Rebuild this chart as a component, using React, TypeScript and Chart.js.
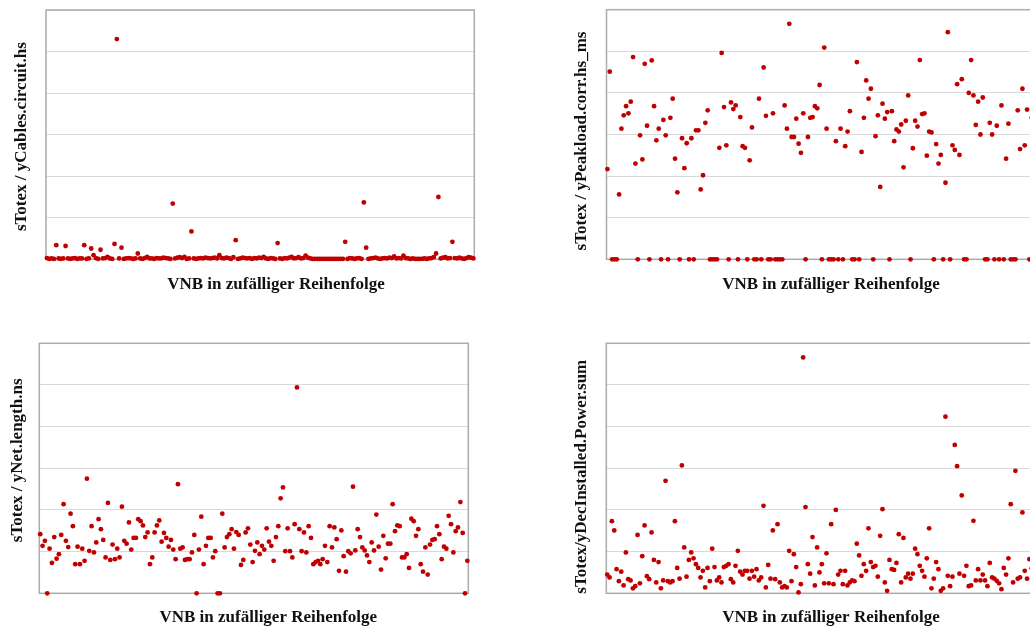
import React, { useEffect, useRef } from "react";
import { Chart, registerables } from "chart.js";

Chart.register(...registerables);

// ---------- data (values in grid units, 6 gridline intervals, no tick labels) ----------
const xAxisTitle = "VNB in zufälliger Reihenfolge";

const cablesTitle = "sTotex / yCables.circuit.hs";
const cablesValues = [
  0.03, 0.01, 0.02, 0.01, 0.34, 0.02, 0.01, 0.02, 0.32, 0.02,
  0.01, 0.02, 0.03, 0.01, 0.02, 0.02, 0.34, 0.01, 0.02, 0.26,
  0.10, 0.03, 0.01, 0.23, 0.02, 0.03, 0.06, 0.02, 0.01, 0.37,
  5.30, 0.02, 0.28, 0.01, 0.02, 0.03, 0.02, 0.01, 0.02, 0.14,
  0.02, 0.01, 0.03, 0.06, 0.02, 0.02, 0.01, 0.03, 0.02, 0.02,
  0.04, 0.03, 0.02, 0.01, 1.34, 0.02, 0.04, 0.05, 0.03, 0.06,
  0.01, 0.02, 0.67, 0.02, 0.01, 0.02, 0.03, 0.02, 0.04, 0.03,
  0.02, 0.03, 0.04, 0.02, 0.10, 0.03, 0.02, 0.04, 0.03, 0.01,
  0.05, 0.46, 0.01, 0.02, 0.04, 0.03, 0.02, 0.03, 0.01, 0.03,
  0.02, 0.04, 0.03, 0.06, 0.02, 0.01, 0.03, 0.02, 0.01, 0.39,
  0.02, 0.01, 0.03, 0.02, 0.04, 0.06, 0.02, 0.03, 0.05, 0.02,
  0.03, 0.09, 0.04, 0.02, 0.01, 0.01, 0.01, 0.01, 0.01, 0.01,
  0.01, 0.01, 0.01, 0.01, 0.01, 0.01, 0.01, 0.01, 0.42, 0.01,
  0.03, 0.02, 0.01, 0.02, 0.03, 0.01, 1.37, 0.28, 0.01, 0.02,
  0.03, 0.04, 0.02, 0.01, 0.02, 0.03, 0.02, 0.04, 0.03, 0.07,
  0.02, 0.03, 0.02, 0.09, 0.03, 0.02, 0.01, 0.02, 0.01, 0.01,
  0.01, 0.01, 0.02, 0.01, 0.02, 0.03, 0.05, 0.14, 1.50, 0.02,
  0.04, 0.05, 0.02, 0.03, 0.42, 0.03, 0.02, 0.04, 0.02, 0.01,
  0.03, 0.05, 0.04, 0.02,
];

const peakloadTitle = "sTotex / yPeakload.corr.hs_ms";
const peakloadValues = [
  2.17, 4.51, 0, 0, 0, 1.56, 3.14, 3.46, 3.68, 3.51,
  3.79, 4.86, 2.30, 0, 2.98, 2.40, 4.70, 3.21, 0, 4.78,
  3.68, 2.86, 3.14, 0, 3.35, 2.98, 0, 3.40, 3.86, 2.42,
  1.61, 0, 2.91, 2.19, 2.79, 0, 2.91, 0, 3.10, 3.10,
  1.68, 2.02, 3.28, 3.58, 0, 0, 0, 0, 2.68, 4.96,
  3.66, 2.74, 0, 3.77, 3.61, 3.70, 0, 3.42, 2.72, 2.68,
  0, 2.38, 3.17, 0, 0, 3.86, 0, 4.61, 3.45, 0,
  0, 3.51, 0, 0, 0, 0, 3.70, 3.14, 5.66, 2.94,
  2.94, 3.38, 2.78, 2.56, 3.51, 0, 2.94, 3.40, 3.42, 3.68,
  3.63, 4.19, 0, 5.09, 3.14, 0, 0, 0, 2.84, 0,
  3.14, 0, 2.72, 3.07, 3.56, 0, 0, 4.74, 0, 2.58,
  3.40, 4.30, 3.86, 4.10, 0, 2.96, 3.46, 1.74, 3.74, 3.38,
  3.54, 0, 3.56, 2.84, 3.12, 3.07, 3.24, 2.21, 3.33, 3.94,
  0, 2.67, 3.33, 3.19, 4.79, 3.49, 3.51, 2.49, 3.07, 3.05,
  0, 2.77, 2.30, 2.51, 0, 1.84, 5.46, 0, 2.74, 2.63,
  4.21, 2.51, 4.33, 0, 0, 4.00, 4.79, 3.94, 3.23, 3.79,
  3.00, 3.89, 0, 0, 3.28, 3.00, 0, 3.21, 0, 3.70,
  0, 2.42, 3.26, 0, 0, 0, 3.58, 2.65, 4.10, 2.74,
  3.60, 0, 3.40, 0,
];

const netLengthTitle = "sTotex / yNet.length.ns";
const netLengthValues = [
  1.42, 1.14, 1.26, 0, 1.07, 0.73, 1.35, 0.83, 0.94, 1.40,
  2.14, 1.26, 1.11, 1.91, 1.61, 0.70, 1.12, 0.70, 1.07, 0.78,
  2.75, 1.02, 1.61, 0.98, 1.22, 1.78, 1.54, 1.28, 0.86, 2.17,
  0.80, 1.17, 0.82, 1.07, 0.86, 2.08, 1.26, 1.19, 1.70, 1.05,
  1.33, 1.33, 1.78, 1.73, 1.63, 1.35, 1.46, 0.70, 0.86, 1.46,
  1.63, 1.75, 1.24, 1.45, 1.33, 1.12, 1.28, 1.05, 0.82, 2.62,
  1.07, 1.10, 0.80, 0.82, 0.82, 0.98, 1.40, 0, 1.05, 1.84,
  0.70, 1.14, 1.33, 1.33, 0.86, 1.01, 0, 0, 1.91, 1.10,
  1.35, 1.42, 1.54, 1.07, 1.47, 1.40, 0.68, 0.80, 1.46, 1.56,
  1.17, 0.75, 1.02, 1.22, 0.94, 1.14, 1.05, 1.56, 1.24, 1.14,
  0.78, 1.35, 1.61, 2.28, 2.54, 1.01, 1.56, 1.01, 0.86, 1.66,
  4.94, 1.54, 1.01, 1.46, 0.98, 1.61, 1.33, 0.70, 0.75, 0.78,
  0.70, 0.82, 1.14, 0.75, 1.61, 1.10, 1.58, 1.30, 0.54, 1.51,
  0.89, 0.52, 1.01, 0.96, 2.56, 1.03, 1.54, 1.35, 1.10, 1.03,
  0.91, 0.75, 1.22, 1.03, 1.89, 1.12, 0.57, 1.38, 0.84, 1.19,
  1.19, 2.14, 1.49, 1.63, 1.61, 0.86, 0.86, 0.94, 0.61, 1.79,
  1.73, 1.38, 1.54, 0.70, 0.52, 1.10, 0.45, 1.17, 1.28, 1.30,
  1.61, 1.42, 0.82, 1.12, 1.07, 1.86, 1.66, 0.98, 1.49, 1.58,
  2.19, 1.45, 0, 0.78,
];

const decPowerTitle = "sTotex/yDecInstalled.Power.sum";
const decPowerValues = [
  0.45, 0.38, 1.73, 1.51, 0.58, 0.29, 0.52, 0.19, 0.98, 0.34,
  0.31, 0.12, 0.17, 1.40, 0.24, 0.89, 1.63, 0.41, 0.34, 1.46,
  0.80, 0.26, 0.75, 0.12, 0.31, 2.70, 0.29, 0.26, 0.29, 1.73,
  0.61, 0.35, 3.07, 1.10, 0.40, 0.80, 0.98, 0.84, 0.70, 0.61,
  0.38, 0.54, 0.14, 0.61, 0.29, 1.07, 0.63, 0.31, 0.38, 0.26,
  0.63, 0.66, 0.70, 0.34, 0.26, 0.66, 1.02, 0.52, 0.45, 0.54,
  0.54, 0.35, 0.54, 0.40, 0.58, 0.31, 0.38, 2.10, 0.14, 0.68,
  0.35, 1.51, 0.34, 1.66, 0.26, 0.14, 0.17, 0.14, 1.02, 0.29,
  0.94, 0.63, 0.02, 0.22, 5.66, 2.07, 0.70, 0.47, 1.35, 0.19,
  1.10, 0.50, 0.70, 0.24, 0.96, 0.24, 1.66, 0.22, 2.00, 0.45,
  0.54, 0.22, 0.54, 0.19, 0.26, 0.31, 0.29, 1.19, 0.91, 0.42,
  0.70, 0.54, 1.56, 0.75, 0.63, 0.66, 0.40, 1.38, 2.02, 0.26,
  0.06, 0.80, 0.58, 0.56, 0.73, 1.42, 0.26, 1.33, 0.38, 0.47,
  0.35, 0.47, 1.07, 0.94, 0.66, 0.54, 0.40, 0.84, 1.56, 0.12,
  0.35, 0.75, 0.58, 0.06, 0.12, 4.24, 0.42, 0.17, 0.40, 3.56,
  3.05, 0.47, 2.35, 0.42, 0.66, 0.17, 0.19, 1.74, 0.31, 0.58,
  0.31, 0.45, 0.31, 0.17, 0.73, 0.38, 0.35, 0.30, 0.24, 0.10,
  0.61, 0.45, 0.84, 2.14, 0.26, 2.94, 0.35, 0.38, 1.94, 0.54,
  0.35, 0.82, 0.60, 0.40,
];

const yMax = 6;

// ---------- styles ----------
const DOT = "#C00000";
const GRID = "#d9d9d9";
const FRAME = "#ababab";
const FONT = 'bold 17px "Liberation Serif", "Times New Roman", serif';

const frameTitlesPlugin = {
  id: "frameTitles",
  beforeDatasetsDraw(chart: any, _args: any, opts: any) {
    const { ctx, chartArea } = chart;
    ctx.save();
    ctx.strokeStyle = FRAME;
    ctx.lineWidth = 1.5;
    ctx.strokeRect(chartArea.left, chartArea.top, chartArea.right - chartArea.left, chartArea.bottom - chartArea.top);
    ctx.restore();
  },
  afterDraw(chart: any, _args: any, opts: any) {
    const { ctx, chartArea } = chart;
    ctx.save();
    ctx.fillStyle = "#111";
    ctx.font = FONT;
    ctx.textAlign = "center";
    ctx.textBaseline = "alphabetic";
    ctx.fillText(opts.xTitle, chartArea.left + opts.xDx, chartArea.bottom + opts.xDy);
    const cy = (chartArea.top + chartArea.bottom) / 2 + opts.yDy;
    ctx.translate(chartArea.left + opts.yDx, cy);
    ctx.rotate(-Math.PI / 2);
    ctx.fillText(opts.yTitle, 0, 0);
    ctx.restore();
  },
};

type PanelProps = {
  values: number[];
  yTitle: string;
  left: number;
  top: number;
  width: number;
  height: number;
  padding: { left: number; top: number; right: number; bottom: number };
  xDx: number;
  xDy: number;
  yDx: number;
  yDy: number;
};

function Panel(p: PanelProps) {
  const ref = useRef<HTMLCanvasElement | null>(null);
  useEffect(() => {
    if (!ref.current) return;
    const n = p.values.length;
    const chart = new Chart(ref.current, {
      type: "scatter",
      data: {
        datasets: [
          {
            data: p.values.map((v, i) => ({ x: i, y: v })),
            backgroundColor: DOT,
            borderColor: DOT,
            borderWidth: 0,
            pointRadius: 2.4,
            pointHoverRadius: 2.4,
            clip: false as any,
          },
        ],
      },
      options: {
        responsive: false,
        animation: false,
        devicePixelRatio: 1,
        layout: { padding: p.padding },
        plugins: {
          legend: { display: false },
          tooltip: { enabled: false },
          frameTitles: {
            xTitle: xAxisTitle,
            yTitle: p.yTitle,
            xDx: p.xDx,
            xDy: p.xDy,
            yDx: p.yDx,
            yDy: p.yDy,
          },
        } as any,
        scales: {
          x: {
            type: "linear",
            display: false,
            min: -0.4,
            max: n - 1 + 0.4,
          },
          y: {
            type: "linear",
            min: 0,
            max: yMax,
            ticks: { display: false, stepSize: 1 },
            grid: { color: GRID, lineWidth: 1, drawTicks: false },
            border: { display: false },
          },
        },
      },
      plugins: [frameTitlesPlugin],
    });
    return () => chart.destroy();
  }, []);
  return (
    <canvas
      ref={ref}
      width={p.width}
      height={p.height}
      style={{ position: "absolute", left: p.left, top: p.top, width: p.width, height: p.height }}
    />
  );
}

export default function App() {
  return (
    <div
      style={{
        position: "absolute",
        left: 0,
        top: 0,
        width: 1030,
        height: 628,
        overflow: "hidden",
        background: "#fff",
      }}
    >
      <Panel
        values={cablesValues}
        yTitle={cablesTitle}
        left={0}
        top={0}
        width={515}
        height={314}
        padding={{ left: 46, top: 10, right: 40.7, bottom: 54.7 }}
        xDx={230}
        xDy={29.4}
        yDx={-20}
        yDy={2}
      />
      <Panel
        values={peakloadValues}
        yTitle={peakloadTitle}
        left={515}
        top={0}
        width={540}
        height={314}
        padding={{ left: 91.5, top: 9.7, right: 20, bottom: 54.7 }}
        xDx={224.5}
        xDy={29.4}
        yDx={-21}
        yDy={6.5}
      />
      <Panel
        values={netLengthValues}
        yTitle={netLengthTitle}
        left={0}
        top={314}
        width={515}
        height={314}
        padding={{ left: 39.3, top: 29.3, right: 46.7, bottom: 34.7 }}
        xDx={229}
        xDy={28.4}
        yDx={-17}
        yDy={-8}
      />
      <Panel
        values={decPowerValues}
        yTitle={decPowerTitle}
        left={515}
        top={314}
        width={540}
        height={314}
        padding={{ left: 91.3, top: 29.3, right: 20, bottom: 34.7 }}
        xDx={224.7}
        xDy={28.4}
        yDx={-20.3}
        yDy={8.4}
      />
    </div>
  );
}
